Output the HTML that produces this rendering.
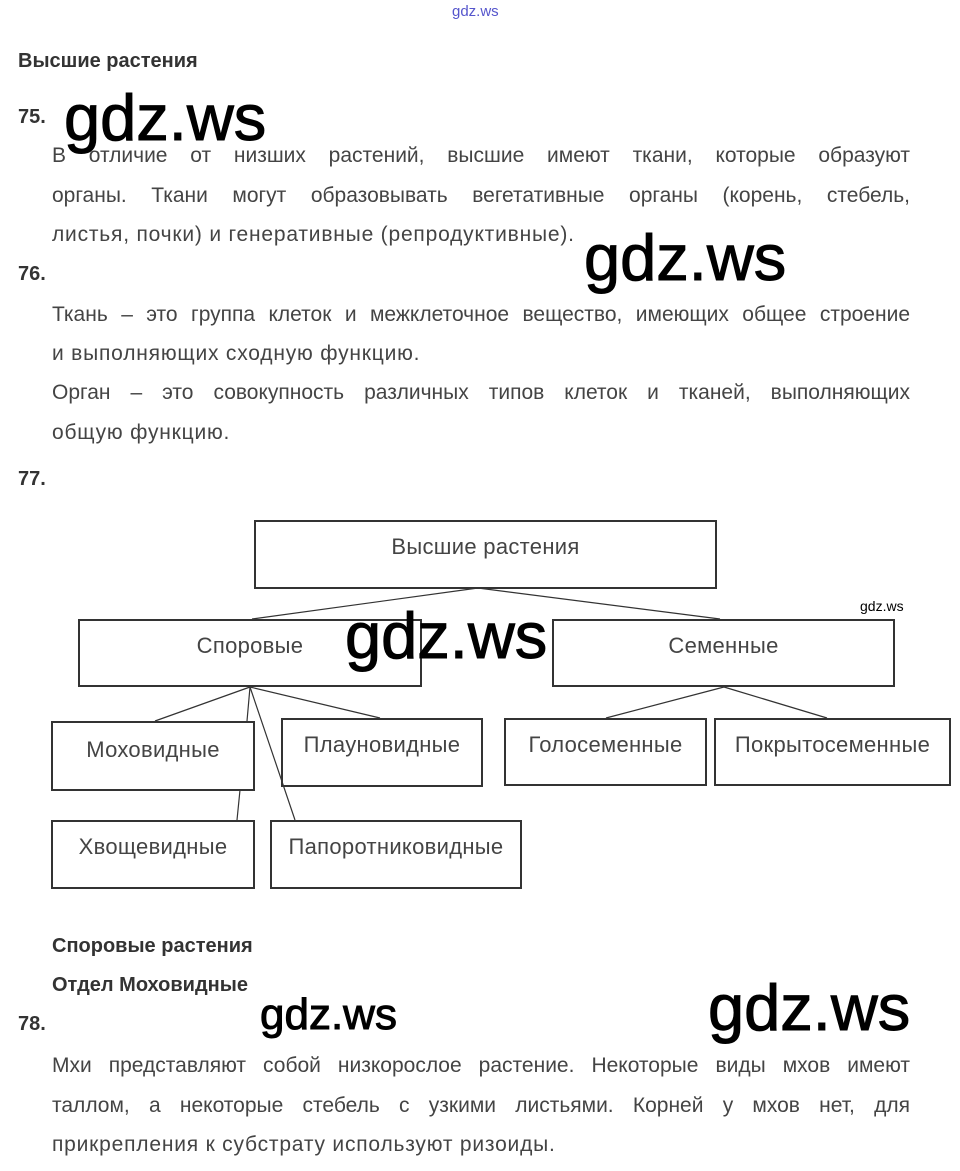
<!DOCTYPE html>
<html><head><meta charset="utf-8"><style>
body{margin:0;width:960px;height:1171px;background:#fff;position:relative;overflow:hidden;font-family:"Liberation Sans",sans-serif;color:#444}
.a{position:absolute}
.h{font-weight:bold;font-size:20px;color:#333}
.p{position:absolute;left:52px;width:858px;font-size:21px;line-height:39.5px;text-align:justify;text-align-last:justify;white-space:nowrap}
.l{text-align-last:left;letter-spacing:0.8px}
.wm{position:absolute;font-family:"Liberation Sans",sans-serif;color:#000;font-size:65px;letter-spacing:0px;-webkit-text-stroke:1px #000}
.b{position:absolute;border:2px solid #333;box-sizing:border-box;text-align:center;font-size:22px;letter-spacing:0.3px;color:#444;padding-top:12px}
</style></head><body>
<div class="a" style="left:452px;top:3px;font-size:15px;color:#55c">gdz.ws</div>
<div class="a h" style="left:18px;top:50px">Высшие растения</div>
<div class="a h" style="left:18px;top:106px">75.</div>
<div class="wm" style="left:64px;top:80px">gdz.ws</div>
<div class="p" style="top:136px">В отличие от низших растений, высшие имеют ткани, которые образуют</div>
<div class="p" style="top:176px">органы. Ткани могут образовывать вегетативные органы (корень, стебель,</div>
<div class="p l" style="top:215px">листья, почки) и генеративные (репродуктивные).</div>
<div class="wm" style="left:584px;top:220px">gdz.ws</div>
<div class="a h" style="left:18px;top:263px">76.</div>
<div class="p" style="top:295px">Ткань – это группа клеток и межклеточное вещество, имеющих общее строение</div>
<div class="p l" style="top:334px">и выполняющих сходную функцию.</div>
<div class="p" style="top:373px">Орган – это совокупность различных типов клеток и тканей, выполняющих</div>
<div class="p l" style="top:413px">общую функцию.</div>
<div class="a h" style="left:18px;top:468px">77.</div>
<svg class="a" style="left:0;top:0" width="960" height="1171"><g stroke="#333" stroke-width="1.2">
<line x1="478" y1="588" x2="252" y2="619"/><line x1="478" y1="588" x2="720" y2="619"/>
<line x1="250" y1="687" x2="155" y2="721"/><line x1="250" y1="687" x2="247" y2="721"/>
<line x1="250" y1="687" x2="295" y2="820"/><line x1="250" y1="687" x2="380" y2="718"/>
<line x1="240" y1="790" x2="237" y2="820"/>
<line x1="724" y1="687" x2="606" y2="718"/><line x1="724" y1="687" x2="827" y2="718"/></g></svg>
<div class="b" style="left:254px;top:520px;width:463px;height:69px">Высшие растения</div>
<div class="b" style="left:78px;top:619px;width:344px;height:68px">Споровые</div>
<div class="b" style="left:552px;top:619px;width:343px;height:68px">Семенные</div>
<div class="b" style="left:51px;top:721px;width:204px;height:70px;padding-top:14px">Моховидные</div>
<div class="b" style="left:281px;top:718px;width:202px;height:69px">Плауновидные</div>
<div class="b" style="left:504px;top:718px;width:203px;height:68px">Голосеменные</div>
<div class="b" style="left:714px;top:718px;width:237px;height:68px">Покрытосеменные</div>
<div class="b" style="left:51px;top:820px;width:204px;height:69px">Хвощевидные</div>
<div class="b" style="left:270px;top:820px;width:252px;height:69px">Папоротниковидные</div>
<div class="wm" style="left:345px;top:598px">gdz.ws</div>
<div class="a" style="left:860px;top:598px;font-size:14px;color:#000">gdz.ws</div>
<div class="a h" style="left:52px;top:935px">Споровые растения</div>
<div class="a h" style="left:52px;top:974px">Отдел Моховидные</div>
<div class="a h" style="left:18px;top:1013px">78.</div>
<div class="wm" style="left:260px;top:990px;font-size:44px">gdz.ws</div>
<div class="wm" style="left:708px;top:970px">gdz.ws</div>
<div class="p" style="top:1046px">Мхи представляют собой низкорослое растение. Некоторые виды мхов имеют</div>
<div class="p" style="top:1086px">таллом, а некоторые стебель с узкими листьями. Корней у мхов нет, для</div>
<div class="p l" style="top:1125px">прикрепления к субстрату используют ризоиды.</div>
</body></html>
